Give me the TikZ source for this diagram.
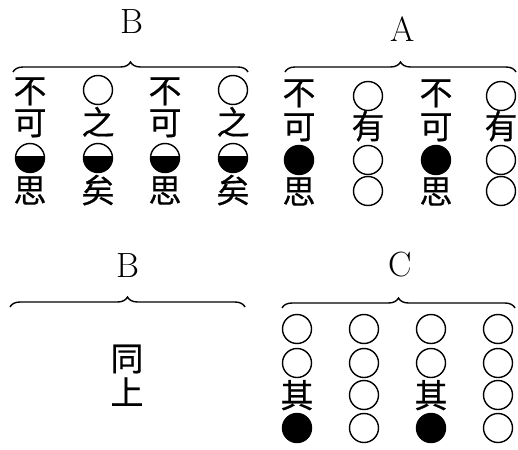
\documentclass[tikz,border=0pt]{standalone}
\usepackage{fontspec}
\newfontfamily\cjk[FakeBold=0.5]{Noto Sans CJK TC}
\usetikzlibrary{decorations.pathreplacing}
\tikzset{
  hz/.style={font=\cjk\fontsize{33}{33}\selectfont, inner sep=0pt, text height=25.4pt, text depth=0pt},
  ring/.style={circle, draw, line width=1.4pt, minimum size=29pt, inner sep=0pt},
  blk/.style={ring, fill=black},
  halfblk/.style={ring, path picture={\fill ([yshift=2pt]path picture bounding box.west) rectangle (path picture bounding box.south east);}},
  lbl/.style={font=\fontsize{35}{35}\selectfont, inner sep=0pt, text height=23.9pt, text depth=0pt},
  brc/.style={decorate, decoration={brace, amplitude=10pt}, line width=1.4pt},
}
\begin{document}
\begin{tikzpicture}[x=1pt,y=-1pt]
\useasboundingbox (0,0) rectangle (518,449);

% group B (top left)
\node[lbl] (lB1) at (132,22) {B};
\coordinate (bl1) at (13,72); \coordinate (br1) at (248,72);
\draw[brc] (bl1) -- (br1);
\node[hz] (t11) at (30,90) {不};
\node[hz] (t12) at (30,122) {可};
\node[halfblk] (t13) at (30,158) {};
\node[hz] (t14) at (30,190) {思};
\node[ring] (t21) at (98,90) {};
\node[hz] (t22) at (98,122) {之};
\node[halfblk] (t23) at (98,158) {};
\node[hz] (t24) at (98,190) {矣};
\node[hz] (t31) at (165,90) {不};
\node[hz] (t32) at (165,122) {可};
\node[halfblk] (t33) at (165,158) {};
\node[hz] (t34) at (165,190) {思};
\node[ring] (t41) at (233,90) {};
\node[hz] (t42) at (233,122) {之};
\node[halfblk] (t43) at (233,158) {};
\node[hz] (t44) at (233,190) {矣};

% group A (top right)
\node[lbl] (lA) at (403,30) {A};
\coordinate (bl2) at (285,72); \coordinate (br2) at (516,72);
\draw[brc] (bl2) -- (br2);
\node[hz] (a11) at (299,92) {不};
\node[hz] (a12) at (299,126) {可};
\node[blk] (a13) at (299,160) {};
\node[hz] (a14) at (299,191) {思};
\node[ring] (a21) at (368,96) {};
\node[hz] (a22) at (368,126) {有};
\node[ring] (a23) at (368,160) {};
\node[ring] (a24) at (368,191) {};
\node[hz] (a31) at (436,92) {不};
\node[hz] (a32) at (436,126) {可};
\node[blk] (a33) at (436,160) {};
\node[hz] (a34) at (436,191) {思};
\node[ring] (a41) at (501,96) {};
\node[hz] (a42) at (501,126) {有};
\node[ring] (a43) at (501,160) {};
\node[ring] (a44) at (501,191) {};

% group B again (bottom left)
\node[lbl] (lB2) at (128,266) {B};
\coordinate (bl3) at (10,307); \coordinate (br3) at (245,307);
\draw[brc] (bl3) -- (br3);
\node[hz] (s1) at (127,358) {同};
\node[hz] (s2) at (127,392) {上};

% group C (bottom right)
\node[lbl] (lC) at (400,265) {C};
\coordinate (bl4) at (282,308); \coordinate (br4) at (515,308);
\draw[brc] (bl4) -- (br4);
\node[ring] (c11) at (297,329) {};
\node[ring] (c12) at (297,363) {};
\node[hz] (c13) at (297,395) {其};
\node[blk] (c14) at (297,428) {};
\node[ring] (c21) at (364,329) {};
\node[ring] (c22) at (364,363) {};
\node[ring] (c23) at (364,395) {};
\node[ring] (c24) at (364,428) {};
\node[ring] (c31) at (431,329) {};
\node[ring] (c32) at (431,363) {};
\node[hz] (c33) at (431,395) {其};
\node[blk] (c34) at (431,428) {};
\node[ring] (c41) at (498,329) {};
\node[ring] (c42) at (498,363) {};
\node[ring] (c43) at (498,395) {};
\node[ring] (c44) at (498,428) {};
\end{tikzpicture}
\end{document}
